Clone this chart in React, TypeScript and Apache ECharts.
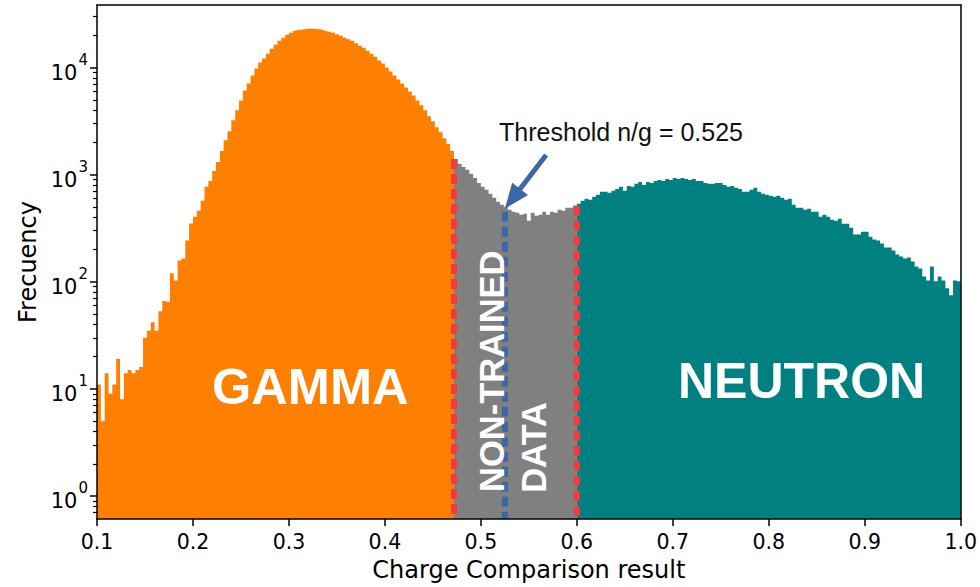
import React, { useEffect, useRef } from "react";
import * as echarts from "echarts";

// Histogram of the charge-comparison discriminator (bin width 0.004)
const BIN_WIDTH = 0.004;

const GAMMA_START = 0.1;
const gammaCounts = [
  11, 5, 14, 9, 11, 19, 8, 14, 15, 14,
  15, 16, 30, 35, 42, 35, 53, 66, 65, 120,
  103, 158, 165, 243, 350, 405, 460, 570, 770, 875,
  1083, 1313, 1662, 2100, 2550, 3220, 3990, 4940, 6120, 7100,
  8430, 9790, 11130, 12130, 13480, 15000, 16360, 17810, 18980, 20230,
  21120, 22050, 22530, 22780, 23020, 23020, 23020, 22780, 22530, 22050,
  21600, 21120, 20450, 19800, 18980, 18390, 17810, 16900, 16010, 15330,
  14380, 13480, 12650, 11620, 10890, 10000, 9180, 8420, 7730, 7100,
  6520, 5990, 5500, 4940, 4440, 3990, 3510, 3150, 2770, 2490,
  2190, 1930, 1660,
];

const NON_TRAINED_START = 0.472;
const nonTrainedCounts = [
  1400, 1260, 1180, 1110, 1020, 933, 838, 770, 722, 663,
  608, 558, 524, 502, 471, 451, 441, 423, 432, 372,
  441, 414, 423, 451, 423, 451, 441, 471, 461, 491,
  491, 513,
];

const NEUTRON_START = 0.6;
const neutronCounts = [
  535, 570, 596, 583, 622, 649, 692, 692, 677, 707,
  737, 770, 707, 786, 770, 821, 856, 803, 856, 838,
  875, 894, 875, 913, 894, 933, 913, 933, 913, 894,
  913, 875, 875, 838, 821, 821, 838, 838, 803, 770,
  786, 754, 737, 692, 692, 722, 754, 692, 663, 649,
  635, 622, 635, 608, 583, 596, 524, 491, 491, 471,
  481, 451, 451, 405, 423, 405, 380, 372, 388, 349,
  349, 320, 276, 276, 294, 294, 264, 248, 243, 228,
  209, 209, 196, 180, 172, 165, 169, 155, 139, 133,
  112, 103, 139, 101, 112, 103, 87, 75, 103, 101,
];

// Region limits and the classification threshold
const REGION_LOW = 0.472;
const REGION_HIGH = 0.6;
const THRESHOLD = 0.525;
// Heights (counts) reached by the dashed markers
const regionLowTop = 1400;
const regionHighTop = 513;
const thresholdTop = 450;

// Arrow from the annotation to the threshold line
const arrowTail = [0.568, 1525];
const arrowTip = [THRESHOLD, 481];

const xTicks = [0.1, 0.2, 0.3, 0.4, 0.5, 0.6, 0.7, 0.8, 0.9, 1.0];
const yMajorTicks = [1, 10, 100, 1000, 10000];
const yMinorTicks = [
  0.7, 0.8, 0.9,
  2, 3, 4, 5, 6, 7, 8, 9,
  20, 30, 40, 50, 60, 70, 80, 90,
  200, 300, 400, 500, 600, 700, 800, 900,
  2000, 3000, 4000, 5000, 6000, 7000, 8000, 9000,
  20000, 30000,
];

const X_MIN = 0.1;
const X_MAX = 1.0;
const Y_MIN = 0.61;
const Y_MAX = 38400;

const ORANGE = "#ff8000";
const GREY = "#808080";
const TEAL = "#008080";
const RED = "#f23b3b";
const BLUE = "#3a68a6";

const TICK_FONT = "DejaVu Sans";
const NOTE_FONT = "Liberation Sans";

function stepPoints(start: number, counts: number[]) {
  const pts = counts.map((c, k) => [start + k * BIN_WIDTH, c]);
  pts.push([start + counts.length * BIN_WIDTH, counts[counts.length - 1]]);
  return pts;
}

function histSeries(name: string, start: number, counts: number[], color: string) {
  return {
    name,
    type: "line",
    step: "end",
    data: stepPoints(start, counts),
    showSymbol: false,
    symbol: "none",
    lineStyle: { width: 0, color },
    areaStyle: { color, opacity: 1, origin: "start" },
    z: 2,
  };
}

const markerLines = [
  { value: [REGION_LOW, regionLowTop], color: RED },
  { value: [REGION_HIGH, regionHighTop], color: RED },
  { value: [THRESHOLD, thresholdTop], color: BLUE },
];

const notes = [
  { value: [0.3222, 10.5], text: "GAMMA", size: 50.5, rotate: 0, align: "center" },
  { value: [0.8342, 11.8], text: "NEUTRON", size: 50, rotate: 0, align: "center" },
  { value: [0.5118, 1.09], text: "NON-TRAINED", size: 34.5, rotate: 90, align: "left" },
  { value: [0.5555, 1.07], text: "DATA", size: 34.5, rotate: 90, align: "left" },
];

export default function App() {
  const ref = useRef<HTMLDivElement>(null);

  useEffect(() => {
    if (!ref.current) return;
    const chart = echarts.init(ref.current, null, { renderer: "svg" });

    const axisLineStyle = { color: "#000", width: 1.5 };

    const option = {
      animation: false,
      backgroundColor: "#fff",
      grid: { left: 97, top: 5, width: 866, height: 517, containLabel: false },
      xAxis: [
        {
          type: "value",
          min: X_MIN,
          max: X_MAX,
          interval: 0.1,
          position: "bottom",
          z: 10,
          axisLine: { show: true, onZero: false, lineStyle: axisLineStyle },
          axisTick: { show: true, length: 7, lineStyle: { color: "#000", width: 1.5 } },
          axisLabel: {
            show: true,
            margin: 12,
            color: "#000",
            fontSize: 20.5,
            fontFamily: TICK_FONT,
            customValues: xTicks,
            formatter: (v: number) => v.toFixed(1),
          },
          splitLine: { show: false },
          name: "Charge Comparison result",
          nameLocation: "middle",
          nameGap: 39,
          nameTextStyle: { color: "#000", fontSize: 24, fontFamily: TICK_FONT },
        },
        {
          type: "value",
          min: X_MIN,
          max: X_MAX,
          position: "top",
          z: 10,
          axisLine: { show: true, onZero: false, lineStyle: axisLineStyle },
          axisTick: { show: false },
          axisLabel: { show: false },
          splitLine: { show: false },
        },
      ],
      yAxis: [
        {
          type: "log",
          logBase: 10,
          min: Y_MIN,
          max: Y_MAX,
          position: "left",
          z: 10,
          axisLine: { show: true, onZero: false, lineStyle: axisLineStyle },
          axisTick: {
            show: true,
            length: 7,
            customValues: yMajorTicks,
            lineStyle: { color: "#000", width: 1.5 },
          },
          axisLabel: {
            show: true,
            margin: 9,
            customValues: yMajorTicks,
            formatter: (v: number) => `{b|10}{s|${Math.round(Math.log10(v))}}`,
            rich: {
              b: { fontSize: 21, fontFamily: TICK_FONT, color: "#000", lineHeight: 31, verticalAlign: "bottom" },
              s: { fontSize: 15, fontFamily: TICK_FONT, color: "#000", lineHeight: 31, verticalAlign: "top", padding: [0, 0, 0, 1] },
            },
          },
          minorTick: { show: false },
          splitLine: { show: false },
          name: "Frecuency",
          nameLocation: "middle",
          nameGap: 55,
          nameTextStyle: { color: "#000", fontSize: 24, fontFamily: TICK_FONT },
        },
        {
          type: "log",
          logBase: 10,
          min: Y_MIN,
          max: Y_MAX,
          position: "left",
          z: 10,
          axisLine: { show: false },
          axisTick: {
            show: true,
            length: 4,
            customValues: yMinorTicks,
            lineStyle: { color: "#000", width: 1.2 },
          },
          axisLabel: { show: false },
          splitLine: { show: false },
        },
        {
          type: "log",
          logBase: 10,
          min: Y_MIN,
          max: Y_MAX,
          position: "right",
          z: 10,
          axisLine: { show: true, onZero: false, lineStyle: axisLineStyle },
          axisTick: { show: false },
          axisLabel: { show: false },
          splitLine: { show: false },
        },
      ],
      series: [
        histSeries("Gamma", GAMMA_START, gammaCounts, ORANGE),
        histSeries("Non-trained", NON_TRAINED_START, nonTrainedCounts, GREY),
        histSeries("Neutron", NEUTRON_START, neutronCounts, TEAL),
        {
          name: "Markers",
          type: "custom",
          z: 5,
          data: markerLines.map((m) => m.value),
          renderItem: (params: any, api: any) => {
            const x = api.value(0);
            const top = api.coord([x, api.value(1)]);
            const bottom = api.coord([x, Y_MIN]);
            return {
              type: "line",
              shape: { x1: top[0], y1: top[1], x2: bottom[0], y2: bottom[1] },
              style: {
                stroke: markerLines[params.dataIndex].color,
                lineWidth: 6,
                lineDash: [10, 5],
              },
            };
          },
        },
        {
          name: "Threshold arrow",
          type: "custom",
          z: 6,
          data: [[arrowTail[0], arrowTail[1], arrowTip[0], arrowTip[1]]],
          renderItem: (params: any, api: any) => {
            const tail = api.coord([api.value(0), api.value(1)]);
            const tip = api.coord([api.value(2), api.value(3)]);
            const dx = tip[0] - tail[0];
            const dy = tip[1] - tail[1];
            const len = Math.sqrt(dx * dx + dy * dy);
            const ux = dx / len;
            const uy = dy / len;
            const headLen = 25;
            const headHalf = 10;
            const bx = tip[0] - ux * headLen;
            const by = tip[1] - uy * headLen;
            return {
              type: "group",
              children: [
                {
                  type: "line",
                  shape: { x1: tail[0], y1: tail[1], x2: bx + ux * 2, y2: by + uy * 2 },
                  style: { stroke: BLUE, lineWidth: 5 },
                },
                {
                  type: "polygon",
                  shape: {
                    points: [
                      [tip[0], tip[1]],
                      [bx - uy * headHalf, by + ux * headHalf],
                      [bx + uy * headHalf, by - ux * headHalf],
                    ],
                  },
                  style: { fill: BLUE },
                },
              ],
            };
          },
        },
        {
          name: "Threshold label",
          type: "custom",
          z: 7,
          data: [[0.519, 2494]],
          renderItem: (params: any, api: any) => {
            const p = api.coord([api.value(0), api.value(1)]);
            return {
              type: "text",
              x: p[0],
              y: p[1],
              style: {
                text: `Threshold n/g = ${THRESHOLD}`,
                fill: "#111",
                fontSize: 25,
                fontFamily: NOTE_FONT,
                align: "left",
                verticalAlign: "middle",
              },
            };
          },
        },
        {
          name: "Region labels",
          type: "custom",
          z: 7,
          data: notes.map((n) => n.value),
          renderItem: (params: any, api: any) => {
            const n = notes[params.dataIndex];
            const p = api.coord([api.value(0), api.value(1)]);
            return {
              type: "text",
              x: p[0],
              y: p[1],
              rotation: (n.rotate * Math.PI) / 180,
              style: {
                text: n.text,
                fill: "#fff",
                fontSize: n.size,
                fontWeight: "bold",
                fontFamily: NOTE_FONT,
                align: n.align,
                verticalAlign: "middle",
              },
            };
          },
        },
      ],
    };

    chart.setOption(option as any);
    return () => chart.dispose();
  }, []);

  return (
    <div
      ref={ref}
      style={{ position: "absolute", left: 0, top: 0, width: 980, height: 587, background: "#fff" }}
    />
  );
}
